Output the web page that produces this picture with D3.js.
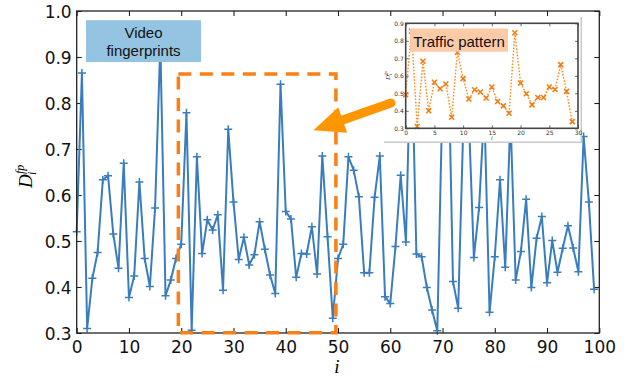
<!DOCTYPE html>
<html>
<head>
<meta charset="utf-8">
<script src="https://cdn.jsdelivr.net/npm/d3@7"></script>
<style>
  body { margin: 0; background: #fff; }
  svg { display: block; }
</style>
</head>
<body>
<svg id="chart" width="638" height="381"></svg>
<script>
// D_i^fp for the video fingerprints, i = 0..99
var fingerprint = [
  0.52, 0.865, 0.31, 0.419, 0.475, 0.633, 0.642, 0.515, 0.441, 0.669,
  0.377, 0.424, 0.628, 0.462, 0.401, 0.572, 0.93, 0.381, 0.415, 0.462,
  0.493, 0.779, 0.306, 0.683, 0.473, 0.546, 0.524, 0.557, 0.393, 0.743,
  0.585, 0.46, 0.508, 0.448, 0.47, 0.542, 0.482, 0.426, 0.386, 0.841,
  0.564, 0.548, 0.421, 0.473, 0.472, 0.531, 0.428, 0.685, 0.509, 0.332,
  0.462, 0.493, 0.683, 0.654, 0.596, 0.431, 0.431, 0.595, 0.685, 0.379,
  0.364, 0.488, 0.643, 0.498, 0.97, 0.472, 0.466, 0.399, 0.35, 0.305,
  0.82, 0.97, 0.412, 0.354, 0.76, 0.78, 0.464, 0.573, 0.79, 0.345,
  0.466, 0.633, 0.443, 0.77, 0.415, 0.477, 0.591, 0.399, 0.506, 0.553,
  0.409, 0.501, 0.432, 0.484, 0.533, 0.485, 0.433, 0.727, 0.585, 0.395
];
// inset: traffic pattern, i = 0..29
var traffic = [
  0.492, 0.855, 0.31, 0.683, 0.40, 0.563, 0.526, 0.553, 0.363, 0.735,
  0.584, 0.467, 0.52, 0.507, 0.473, 0.536, 0.453, 0.428, 0.386, 0.846,
  0.559, 0.497, 0.434, 0.476, 0.476, 0.536, 0.522, 0.664, 0.511, 0.338
];
var xTicks = [0, 10, 20, 30, 40, 50, 60, 70, 80, 90, 100];
var yTicks = [0.3, 0.4, 0.5, 0.6, 0.7, 0.8, 0.9, 1.0];
var insetXTicks = [0, 5, 10, 15, 20, 25, 30];
var insetYTicks = [0.3, 0.4, 0.5, 0.6, 0.7, 0.8, 0.9];

// annotations, in data units of the main plot
var zoomBox = { x0: 19.45, x1: 49.6, y0: 0.3007, y1: 0.863 };
var videoBox = { x0: 1.78, x1: 23.79, y0: 0.889, y1: 0.980 };
var arrowTail = [60.14, 0.80], arrowTip = [45.3, 0.741];

var BLUE = "#3a7dbd", ORANGE = "#fb7f14";

window.addEventListener("load", makeChart);
function makeChart() {
    var svg = d3.select("#chart");
    var scX = d3.scaleLinear().domain([0, 100]).range([76.7, 599.3]);
    var scY = d3.scaleLinear().domain([0.3, 1.0]).range([333, 11]);

    // ticks on all four sides, pointing inward
    var tickFont = "17px 'DejaVu Sans', sans-serif";
    var axB = svg.append("g").attr("transform", "translate(0,333)")
        .call(d3.axisBottom(scX).tickValues(xTicks).tickSizeInner(-5)
              .tickSizeOuter(0).tickPadding(8));
    var axT = svg.append("g").attr("transform", "translate(0,11)")
        .call(d3.axisTop(scX).tickValues(xTicks).tickSizeInner(-5)
              .tickSizeOuter(0).tickFormat(""));
    var axL = svg.append("g").attr("transform", "translate(76.7,0)")
        .call(d3.axisLeft(scY).tickValues(yTicks).tickSizeInner(-5)
              .tickSizeOuter(0).tickPadding(5).tickFormat(d3.format(".1f")));
    var axR = svg.append("g").attr("transform", "translate(599.3,0)")
        .call(d3.axisRight(scY).tickValues(yTicks).tickSizeInner(-5)
              .tickSizeOuter(0).tickFormat(""));
    [axB, axT, axL, axR].forEach(function(a) {
        a.select(".domain").remove();
        a.selectAll("line").attr("stroke", "#222").attr("stroke-width", 1.1);
        a.selectAll("text").style("font", tickFont).attr("fill", "#111");
    });
    axL.selectAll("text").attr("dy", "0.36em");

    // the series
    var line = d3.line().x(function(d, i) { return scX(i); })
        .y(function(d) { return scY(d); });
    svg.append("path").datum(fingerprint).attr("d", line)
        .attr("fill", "none").attr("stroke", BLUE).attr("stroke-width", 2);
    svg.append("g").selectAll("path").data(fingerprint).enter()
        .append("path").attr("d", "M-4,0H4M0,-4V4")
        .attr("transform", function(d, i) {
            return "translate(" + scX(i) + "," + scY(d) + ")"; })
        .attr("stroke", BLUE).attr("stroke-width", 1.5);

    // frame
    svg.append("rect").attr("x", scX(0)).attr("y", scY(1))
        .attr("width", scX(100) - scX(0)).attr("height", scY(0.3) - scY(1))
        .attr("fill", "none").attr("stroke", "#222").attr("stroke-width", 1.3);

    // dashed zoom window
    svg.append("rect").attr("x", scX(zoomBox.x0)).attr("y", scY(zoomBox.y1))
        .attr("width", scX(zoomBox.x1) - scX(zoomBox.x0))
        .attr("height", scY(zoomBox.y0) - scY(zoomBox.y1))
        .attr("fill", "none").attr("stroke", ORANGE).attr("stroke-width", 3.5)
        .attr("stroke-dasharray", "13,8.5");

    // "Video fingerprints" label
    var vb = svg.append("g");
    vb.append("rect").attr("x", scX(videoBox.x0)).attr("y", scY(videoBox.y1))
        .attr("width", scX(videoBox.x1) - scX(videoBox.x0))
        .attr("height", scY(videoBox.y0) - scY(videoBox.y1))
        .attr("fill", "#94c4e1");
    var cx = (scX(videoBox.x0) + scX(videoBox.x1)) / 2;
    vb.selectAll("text").data(["Video", "fingerprints"]).enter()
        .append("text").text(function(d) { return d; })
        .attr("x", cx).attr("y", function(d, i) { return scY(videoBox.y1) + 17.5 + 18 * i; })
        .attr("text-anchor", "middle")
        .style("font", "15px 'Liberation Sans', Arial, sans-serif").attr("fill", "#111");

    // axis labels
    var math = "italic 19px 'Liberation Serif', 'Times New Roman', serif";
    svg.append("text").text("i").attr("x", 337).attr("y", 373)
        .attr("text-anchor", "middle").style("font", math);
    var yl = svg.append("g").attr("transform", "translate(32,188) rotate(-90)");
    yl.append("text").text("D").attr("x", 0).attr("y", 0).style("font", math);
    yl.append("text").text("i").attr("x", 13).attr("y", 4)
        .style("font", "italic 12px 'Liberation Serif', serif");
    yl.append("text").text("fp").attr("x", 14).attr("y", -8)
        .style("font", "italic 12px 'Liberation Serif', serif");

    makeInset(svg);

    // arrow pointing from the inset to the window
    var T = [scX(arrowTail[0]), scY(arrowTail[1])];
    var P = [scX(arrowTip[0]), scY(arrowTip[1])];
    var len = Math.hypot(P[0] - T[0], P[1] - T[1]);
    var u = [(P[0] - T[0]) / len, (P[1] - T[1]) / len], n = [-u[1], u[0]];
    var hl = 31, hw = 27;
    var B = [P[0] - u[0] * hl, P[1] - u[1] * hl];
    var arrowColor = "#ff9600";
    svg.append("line").attr("x1", T[0]).attr("y1", T[1])
        .attr("x2", B[0] + u[0] * 3).attr("y2", B[1] + u[1] * 3)
        .attr("stroke", arrowColor).attr("stroke-width", 9)
        .attr("stroke-linecap", "round");
    svg.append("path").attr("fill", arrowColor)
        .attr("d", d3.line()([P,
            [B[0] + n[0] * hw / 2, B[1] + n[1] * hw / 2],
            [B[0] - n[0] * hw / 2, B[1] - n[1] * hw / 2]]) + "Z");
}

function makeInset(svg) {
    var g = svg.append("g");
    // pasted picture with a light shadow
    g.append("rect").attr("x", 384).attr("y", 17).attr("width", 198).attr("height", 126)
        .attr("fill", "#c9c9c9");
    g.append("rect").attr("x", 383).attr("y", 16).attr("width", 197.5).attr("height", 125.5)
        .attr("fill", "#fff");

    var scX = d3.scaleLinear().domain([0, 30]).range([405.7, 578]);
    var scY = d3.scaleLinear().domain([0.3, 0.9]).range([128.3, 23.3]);
    var f = "6px 'DejaVu Sans', sans-serif";

    var axB = g.append("g").attr("transform", "translate(0,128.3)")
        .call(d3.axisBottom(scX).tickValues(insetXTicks).tickSizeInner(-3)
              .tickSizeOuter(0).tickPadding(2));
    var axT = g.append("g").attr("transform", "translate(0,23.3)")
        .call(d3.axisTop(scX).tickValues(insetXTicks).tickSizeInner(-3)
              .tickSizeOuter(0).tickFormat(""));
    var axL = g.append("g").attr("transform", "translate(405.7,0)")
        .call(d3.axisLeft(scY).tickValues(insetYTicks).tickSizeInner(-3)
              .tickSizeOuter(0).tickPadding(2).tickFormat(d3.format(".1f")));
    var axR = g.append("g").attr("transform", "translate(578,0)")
        .call(d3.axisRight(scY).tickValues(insetYTicks).tickSizeInner(-3)
              .tickSizeOuter(0).tickFormat(""));
    [axB, axT, axL, axR].forEach(function(a) {
        a.select(".domain").remove();
        a.selectAll("line").attr("stroke", "#444").attr("stroke-width", 0.8);
        a.selectAll("text").style("font", f).attr("fill", "#333");
    });
    axL.selectAll("text").attr("dy", "0.36em");

    var line = d3.line().x(function(d, i) { return scX(i); })
        .y(function(d) { return scY(d); });
    g.append("path").datum(traffic).attr("d", line)
        .attr("fill", "none").attr("stroke", "#ff8a1a").attr("stroke-width", 1.4)
        .attr("stroke-dasharray", "1.6,1.6");
    g.append("g").selectAll("path").data(traffic).enter()
        .append("path").attr("d", "M-2.5,-2.5L2.5,2.5M-2.5,2.5L2.5,-2.5")
        .attr("transform", function(d, i) {
            return "translate(" + scX(i) + "," + scY(d) + ")"; })
        .attr("stroke", "#f47a10").attr("stroke-width", 1.5);

    g.append("rect").attr("x", scX(0)).attr("y", scY(0.9))
        .attr("width", scX(30) - scX(0)).attr("height", scY(0.3) - scY(0.9))
        .attr("fill", "none").attr("stroke", "#444").attr("stroke-width", 1.6);

    // label box
    g.append("rect").attr("x", 410).attr("y", 28.5).attr("width", 98).attr("height", 23.2)
        .attr("fill", "#fdcaa8");
    g.append("text").text("Traffic pattern").attr("x", 459).attr("y", 46.5)
        .attr("text-anchor", "middle")
        .style("font", "15px 'Liberation Sans', Arial, sans-serif").attr("fill", "#111");

    g.append("text").text("i").attr("x", (scX(0) + scX(30)) / 2).attr("y", 140)
        .attr("text-anchor", "middle")
        .style("font", "italic 6px 'Liberation Serif', serif").attr("fill", "#333");
    var yl = g.append("g").attr("transform", "translate(390,80) rotate(-90)");
    yl.append("text").text("D").style("font", "italic 7px 'Liberation Serif', serif")
        .attr("fill", "#333");
    yl.append("text").text("i").attr("x", 5).attr("y", 1.5)
        .style("font", "italic 4.5px 'Liberation Serif', serif").attr("fill", "#333");
    yl.append("text").text("fp").attr("x", 5.3).attr("y", -3)
        .style("font", "italic 4.5px 'Liberation Serif', serif").attr("fill", "#333");
}
</script>
</body>
</html>
